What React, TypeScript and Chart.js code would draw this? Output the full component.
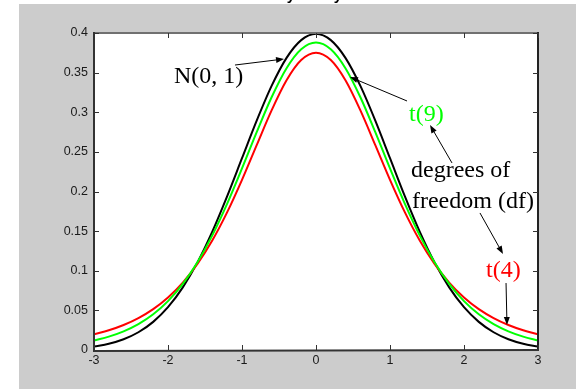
import React, { useEffect, useRef } from 'react';
import { Chart, registerables } from 'chart.js';

Chart.register(...registerables);

// ---- data ----
const xValues = [-3, -2.8, -2.6, -2.4, -2.2, -2, -1.8, -1.6, -1.4, -1.2, -1, -0.8, -0.6, -0.4, -0.2, 0,
  0.2, 0.4, 0.6, 0.8, 1, 1.2, 1.4, 1.6, 1.8, 2, 2.2, 2.4, 2.6, 2.8, 3];
const normalValues = [0.0044, 0.0079, 0.0136, 0.0224, 0.0355, 0.0540, 0.0790, 0.1109, 0.1497, 0.1942, 0.2420,
  0.2897, 0.3332, 0.3683, 0.3910, 0.3989, 0.3910, 0.3683, 0.3332, 0.2897, 0.2420, 0.1942, 0.1497, 0.1109,
  0.0790, 0.0540, 0.0355, 0.0224, 0.0136, 0.0079, 0.0044];
const t9Values = [0.0121, 0.0169, 0.0236, 0.0327, 0.0451, 0.0617, 0.0834, 0.1110, 0.1449, 0.1847, 0.2291,
  0.2752, 0.3189, 0.3553, 0.3795, 0.3880, 0.3795, 0.3553, 0.3189, 0.2752, 0.2291, 0.1847, 0.1449, 0.1110,
  0.0834, 0.0617, 0.0451, 0.0327, 0.0236, 0.0169, 0.0121];
const t4Values = [0.0197, 0.0249, 0.0316, 0.0403, 0.0516, 0.0663, 0.0851, 0.1089, 0.1384, 0.1739, 0.2147,
  0.2588, 0.3023, 0.3400, 0.3658, 0.3750, 0.3658, 0.3400, 0.3023, 0.2588, 0.2147, 0.1739, 0.1384, 0.1089,
  0.0851, 0.0663, 0.0516, 0.0403, 0.0316, 0.0249, 0.0197];
const xTicks = [-3, -2, -1, 0, 1, 2, 3];
const yTicks = [0, 0.05, 0.1, 0.15, 0.2, 0.25, 0.3, 0.35, 0.4];
const xTickLabels = ['-3', '-2', '-1', '0', '1', '2', '3'];
const yTickLabels = ['0', '0.05', '0.1', '0.15', '0.2', '0.25', '0.3', '0.35', '0.4'];

// annotations (data coordinates)
const noteTexts = ['N(0, 1)', 't(9)', 'degrees of', 'freedom (df)', 't(4)'];
const noteX = [-1.919, 1.257, 1.284, 1.297, 2.297];
const noteY = [0.3369, 0.2890, 0.2183, 0.1792, 0.0921];
const noteColors = ['#000000', '#00ff00', '#000000', '#000000', '#ff0000'];
const arrowFromX = [-1.095, 1.230, 1.838, 2.216, 2.568];
const arrowFromY = [0.3596, 0.3142, 0.2360, 0.1729, 0.0845];
const arrowToX = [-0.432, 0.459, 1.541, 2.527, 2.581];
const arrowToY = [0.3672, 0.3445, 0.2839, 0.1211, 0.0315];

const W = 576;
const H = 389;

const framePlugin = {
  id: 'framePlugin',
  beforeDraw(chart: any) {
    const { ctx, chartArea } = chart;
    ctx.save();
    ctx.fillStyle = '#ffffff';
    ctx.fillRect(0, 0, W, H);
    ctx.fillStyle = '#cccccc';
    ctx.fillRect(19, 4, W - 19, H - 4);
    ctx.fillStyle = '#ffffff';
    ctx.fillRect(chartArea.left, chartArea.top, chartArea.right - chartArea.left, chartArea.bottom - chartArea.top);
    // clipped title remnants
    ctx.fillStyle = '#000000';
    ctx.font = 'bold 15px "Liberation Sans"';
    ctx.textAlign = 'center';
    ctx.textBaseline = 'alphabetic';
    ctx.fillText('y', 291, 0);
    ctx.fillText('y', 338, 0);
    ctx.restore();
  },
  afterDatasetsDraw(chart: any) {
    const { ctx, chartArea, scales } = chart;
    const xs = scales.x;
    const ys = scales.y;
    const { left, right, top, bottom } = chartArea;
    ctx.save();
    // frame
    ctx.lineWidth = 2;
    ctx.strokeStyle = '#707070';
    ctx.beginPath();
    ctx.moveTo(left, top);
    ctx.lineTo(right, top);
    ctx.stroke();
    ctx.strokeStyle = '#222222';
    ctx.beginPath();
    ctx.moveTo(right, top - 1);
    ctx.lineTo(right, bottom);
    ctx.stroke();
    ctx.strokeStyle = '#333333';
    ctx.beginPath();
    ctx.moveTo(left, top - 1);
    ctx.lineTo(left, bottom + 1);
    ctx.lineTo(right + 1, bottom);
    ctx.stroke();
    // inward ticks
    ctx.lineWidth = 1;
    ctx.strokeStyle = '#333333';
    const tl = 5;
    xTicks.forEach((v) => {
      const px = Math.round(xs.getPixelForValue(v)) + 0.5;
      ctx.beginPath();
      ctx.moveTo(px, bottom);
      ctx.lineTo(px, bottom - tl);
      ctx.moveTo(px, top);
      ctx.lineTo(px, top + tl);
      ctx.stroke();
    });
    yTicks.forEach((v) => {
      const py = Math.round(ys.getPixelForValue(v)) + 0.5;
      ctx.beginPath();
      ctx.moveTo(left, py);
      ctx.lineTo(left + tl, py);
      ctx.moveTo(right, py);
      ctx.lineTo(right - tl, py);
      ctx.stroke();
    });
    // arrows
    ctx.strokeStyle = '#000000';
    ctx.fillStyle = '#000000';
    ctx.lineWidth = 1;
    for (let i = 0; i < arrowFromX.length; i++) {
      const x1 = xs.getPixelForValue(arrowFromX[i]);
      const y1 = ys.getPixelForValue(arrowFromY[i]);
      const x2 = xs.getPixelForValue(arrowToX[i]);
      const y2 = ys.getPixelForValue(arrowToY[i]);
      const ang = Math.atan2(y2 - y1, x2 - x1);
      const len = 8;
      const hw = 3;
      const bx = x2 - len * Math.cos(ang);
      const by = y2 - len * Math.sin(ang);
      ctx.beginPath();
      ctx.moveTo(x1, y1);
      ctx.lineTo(bx, by);
      ctx.stroke();
      ctx.beginPath();
      ctx.moveTo(x2, y2);
      ctx.lineTo(bx + hw * Math.sin(ang), by - hw * Math.cos(ang));
      ctx.lineTo(bx - hw * Math.sin(ang), by + hw * Math.cos(ang));
      ctx.closePath();
      ctx.fill();
    }
    // texts
    ctx.font = '24px "Liberation Serif"';
    ctx.textAlign = 'left';
    ctx.textBaseline = 'alphabetic';
    for (let i = 0; i < noteTexts.length; i++) {
      ctx.fillStyle = noteColors[i];
      ctx.fillText(noteTexts[i], xs.getPixelForValue(noteX[i]), ys.getPixelForValue(noteY[i]));
    }
    ctx.restore();
  },
};

export default function App() {
  const canvasRef = useRef<HTMLCanvasElement | null>(null);

  useEffect(() => {
    const canvas = canvasRef.current;
    if (!canvas) return;
    const tickFont = { family: '"Liberation Sans", Arial, sans-serif', size: 12.5 };
    const mk = (vals: number[]) => xValues.map((x, i) => ({ x, y: vals[i] }));
    const chart = new Chart(canvas, {
      type: 'line',
      data: {
        datasets: [
          { label: 't(9)', data: mk(t9Values), borderColor: '#00ff00', borderWidth: 2, pointRadius: 0, cubicInterpolationMode: 'monotone', fill: false },
          { label: 't(4)', data: mk(t4Values), borderColor: '#ff0000', borderWidth: 2, pointRadius: 0, cubicInterpolationMode: 'monotone', fill: false },
          { label: 'N(0, 1)', data: mk(normalValues), borderColor: '#000000', borderWidth: 2, pointRadius: 0, cubicInterpolationMode: 'monotone', fill: false },
        ],
      },
      options: {
        animation: false,
        responsive: false,
        devicePixelRatio: 1,
        layout: { padding: { left: 0, top: 33, right: 38, bottom: 0 } },
        plugins: { legend: { display: false }, title: { display: false }, tooltip: { enabled: false } },
        events: [],
        scales: {
          x: {
            type: 'linear',
            min: -3,
            max: 3,
            grid: { display: false, drawTicks: false },
            border: { display: false },
            afterBuildTicks: (s: any) => { s.ticks = xTicks.map((v) => ({ value: v })); },
            afterFit: (s: any) => { s.height = 39; },
            ticks: {
              font: tickFont,
              color: '#1a1a1a',
              padding: 3,
              maxRotation: 0,
              autoSkip: false,
              callback: (v: any) => xTickLabels[xTicks.indexOf(Number(v))] ?? String(v),
            },
          },
          y: {
            type: 'linear',
            min: 0,
            max: 0.4,
            grid: { display: false, drawTicks: false },
            border: { display: false },
            afterBuildTicks: (s: any) => { s.ticks = yTicks.map((v) => ({ value: v })); },
            afterFit: (s: any) => { s.width = 94; },
            ticks: {
              font: tickFont,
              color: '#1a1a1a',
              padding: 6,
              autoSkip: false,
              callback: (v: any) => yTickLabels[yTicks.indexOf(Number(v))] ?? String(v),
            },
          },
        },
      },
      plugins: [framePlugin],
    } as any);
    return () => chart.destroy();
  }, []);

  return (
    <div style={{ position: 'fixed', left: 0, top: 0, width: W, height: H, background: '#ffffff' }}>
      <canvas ref={canvasRef} width={W} height={H} style={{ width: W, height: H, display: 'block' }} />
    </div>
  );
}
